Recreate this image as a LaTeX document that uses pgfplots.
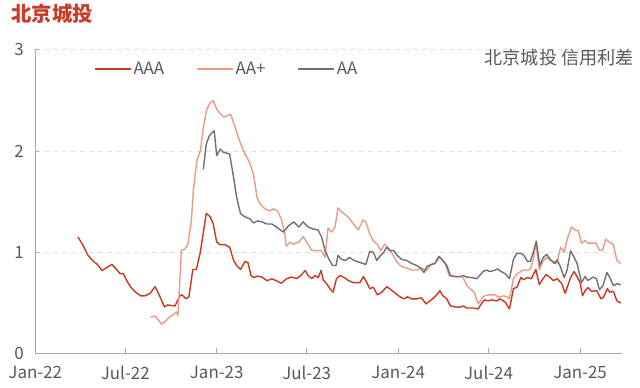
\documentclass[border=0pt]{standalone}
\usepackage{fontspec}
\setmainfont{Noto Sans CJK SC}
\usepackage{pgfplots}
\usepackage{pgfplotstable}
\pgfplotsset{compat=1.18}
\definecolor{cAAA}{RGB}{200,57,30}
\definecolor{cAAp}{RGB}{232,155,135}
\definecolor{cAA}{RGB}{112,112,112}
\definecolor{ctxt}{RGB}{89,89,89}
\definecolor{ctitle}{RGB}{200,60,40}
\definecolor{cgrid}{RGB}{225,225,225}
\definecolor{caxis}{RGB}{170,170,170}

% x = days since 2022-01-01
\pgfplotstableread{
d v
86 1.15
96 1.07
106 0.97
117 0.91
125 0.88
134 0.82
144 0.85
154 0.88
162 0.84
170 0.79
177 0.79
184 0.72
192 0.655
202 0.605
212 0.57
221 0.57
231 0.595
241 0.66
251 0.56
260 0.46
266 0.48
281 0.47
291 0.57
295 0.58
303 0.54
309 0.56
317 0.83
324 0.83
332 1.0
344 1.385
352 1.35
358 1.28
365 1.10
372 1.075
382 1.075
391 1.05
399 0.92
405 0.87
413 0.83
422 0.91
428 0.895
434 0.77
440 0.75
447 0.765
456 0.755
466 0.72
476 0.737
485 0.72
495 0.694
505 0.737
515 0.755
526 0.74
534 0.77
543 0.82
549 0.77
556 0.74
563 0.77
569 0.75
575 0.82
579 0.73
586 0.69
593 0.64
599 0.605
606 0.74
613 0.77
622 0.75
630 0.72
640 0.70
653 0.70
660 0.76
667 0.70
673 0.64
680 0.655
688 0.58
697 0.605
707 0.66
713 0.64
722 0.605
731 0.57
741 0.54
749 0.56
757 0.54
767 0.54
777 0.55
786 0.49
794 0.52
804 0.56
814 0.62
820 0.57
828 0.54
835 0.47
845 0.46
855 0.457
861 0.47
868 0.45
881 0.45
891 0.44
898 0.497
904 0.53
911 0.52
918 0.53
929 0.52
935 0.54
945 0.51
954 0.44
962 0.64
969 0.655
977 0.75
983 0.73
990 0.75
998 0.74
1007 0.83
1014 0.68
1020 0.73
1028 0.78
1036 0.75
1042 0.72
1050 0.74
1059 0.69
1066 0.595
1072 0.68
1077 0.75
1084 0.81
1090 0.76
1096 0.70
1101 0.57
1106 0.62
1112 0.65
1119 0.615
1130 0.62
1138 0.54
1143 0.555
1151 0.64
1156 0.605
1163 0.615
1170 0.52
1178 0.50
}\tAAA

\pgfplotstableread{
d v
232 0.36
241 0.37
248 0.33
254 0.29
263 0.325
270 0.36
278 0.385
284 0.41
287 0.375
294 1.02
301 1.03
307 1.08
314 1.31
318 1.61
325 1.905
332 2.0
338 2.23
345 2.415
352 2.48
358 2.50
365 2.415
372 2.37
379 2.335
393 2.365
401 2.25
411 2.10
422 1.97
431 1.89
439 1.77
446 1.545
452 1.48
462 1.43
472 1.41
479 1.43
487 1.41
495 1.33
502 1.18
505 1.06
512 1.10
520 1.08
530 1.10
539 1.155
546 1.10
556 1.02
566 1.017
576 1.017
583 0.95
589 1.24
596 1.20
603 1.25
609 1.44
616 1.40
624 1.37
630 1.345
640 1.28
650 1.22
659 1.32
665 1.30
673 1.18
680 1.115
688 1.08
695 1.017
703 1.08
713 1.03
728 0.90
737 0.86
747 0.845
757 0.825
767 0.825
777 0.845
786 0.82
797 0.88
804 0.89
814 0.95
824 0.89
833 0.77
845 0.76
855 0.76
861 0.75
868 0.67
875 0.64
883 0.605
891 0.49
898 0.54
904 0.57
914 0.58
925 0.58
932 0.555
942 0.57
949 0.56
954 0.54
962 0.74
969 0.785
979 0.82
987 0.825
995 0.825
1002 0.93
1007 1.10
1014 0.825
1020 0.90
1028 0.95
1036 0.92
1042 0.91
1049 0.885
1057 1.05
1064 1.00
1070 1.13
1079 1.25
1086 1.22
1092 1.215
1099 1.09
1106 1.12
1112 1.09
1122 1.09
1128 1.09
1135 1.02
1141 1.02
1148 1.13
1155 1.10
1163 1.08
1170 0.92
1178 0.89
}\tAAp

\pgfplotstableread{
d v
338 1.82
344 2.07
350 2.15
357 2.19
360 2.20
365 1.955
372 2.02
378 1.99
391 1.97
399 1.74
405 1.545
413 1.38
422 1.35
432 1.33
439 1.29
447 1.31
456 1.30
466 1.28
476 1.28
485 1.25
499 1.20
509 1.26
520 1.30
530 1.25
539 1.30
549 1.25
559 1.23
569 1.22
576 1.15
583 1.017
591 0.93
598 0.87
605 0.87
609 0.97
616 0.93
624 0.92
632 0.95
641 0.92
653 0.90
665 0.88
673 1.01
680 1.00
687 0.92
695 0.97
701 1.00
707 1.05
713 1.017
721 1.017
728 0.97
737 0.93
747 0.92
757 0.89
767 0.87
775 0.845
782 0.80
788 0.86
797 0.88
804 0.89
812 0.96
820 0.92
828 0.87
835 0.77
845 0.76
855 0.76
861 0.77
868 0.755
878 0.75
888 0.74
894 0.77
901 0.81
908 0.825
914 0.81
923 0.82
930 0.835
937 0.81
945 0.79
954 0.74
962 0.93
969 0.99
977 0.99
983 0.97
990 0.91
996 0.91
1002 1.00
1008 1.11
1015 0.87
1022 0.95
1029 0.98
1036 0.93
1044 0.89
1050 0.925
1057 0.85
1064 0.75
1070 0.825
1077 1.017
1084 0.95
1090 0.89
1099 0.70
1106 0.76
1112 0.72
1122 0.755
1129 0.74
1135 0.63
1142 0.67
1150 0.80
1156 0.75
1163 0.67
1170 0.69
1178 0.68
}\tAA

\begin{document}
\begin{tikzpicture}
\useasboundingbox (0bp,0bp) rectangle (640bp,388bp);
\begin{axis}[
  at={(35.3bp,34.5bp)}, anchor=south west,
  scale only axis, width=586.5bp, height=303.6bp,
  xmin=0, xmax=1180, ymin=0, ymax=3,
  axis x line*=bottom, axis y line*=left,
  x axis line style={caxis, line width=0.9bp, -},
  y axis line style={caxis, line width=0.8bp, -},
  xtick={0,181,365,546,730,912,1096},
  xticklabels={Jan-22,Jul-22,Jan-23,Jul-23,Jan-24,Jul-24,Jan-25},
  ytick={0,1,2,3},
  tick align=inside,
  x tick style={caxis, line width=0.8bp},
  y tick style={caxis, line width=0.8bp},
  xtick style={/pgfplots/major tick length=5bp},
  ytick style={/pgfplots/major tick length=4bp},
  ymajorgrids,
  grid style={cgrid, dash pattern=on 5bp off 4bp, line width=0.8bp},
  /pgf/number format/assume math mode=true,
  tick label style={font=\fontsize{17}{20}\selectfont, text=ctxt},
  yticklabel style={xshift=-8bp},
  xticklabel style={yshift=-9bp},
  legend style={at={(rel axis cs:0.100,0.937)}, anchor=west, draw=none, fill=none,
    legend columns=3, font=\fontsize{17}{20}\selectfont, text=ctxt,
    inner sep=0pt,
    /tikz/every even column/.append style={column sep=30bp}},
  legend image code/.code={\draw[#1] (0bp,0bp) -- (36bp,0bp);},
  every axis plot/.append style={line width=1.4bp, mark=none, line join=round},
]
\addplot[cAAA] table[x=d,y=v] {\tAAA};
\addlegendentry{AAA}
\addplot[cAAp] table[x=d,y=v] {\tAAp};
\addlegendentry{AA+}
\addplot[cAA] table[x=d,y=v] {\tAA};
\addlegendentry{AA}
\end{axis}
\node[anchor=west, text=ctitle, font=\fontsize{20.5}{24}\selectfont\bfseries, inner sep=0pt] at (11bp,374bp) {北京城投};
\node[anchor=east, text=ctxt, font=\fontsize{18.2}{21}\selectfont, inner sep=0pt] at (634bp,330bp) {北京城投 信用利差};
\end{tikzpicture}
\end{document}
